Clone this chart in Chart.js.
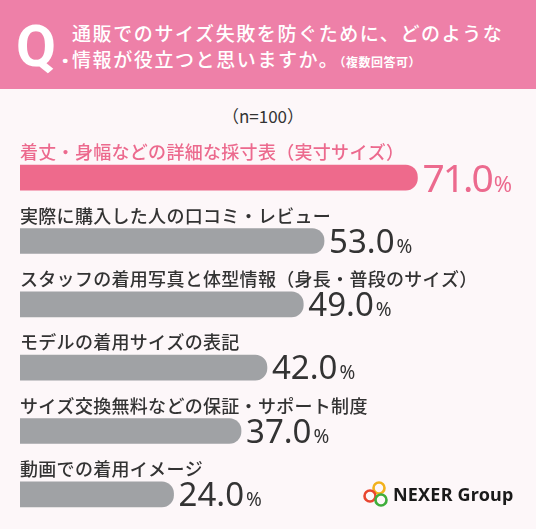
<!DOCTYPE html>
<html>
<head>
<meta charset="utf-8">
<script src="https://cdn.jsdelivr.net/npm/chart.js@4"></script>
<style>
  html, body { margin: 0; padding: 0; }
  body { width: 536px; height: 529px; background: #fdf7f9; position: relative; overflow: hidden;
         font-family: "Noto Sans CJK JP", "Noto Sans", sans-serif; }
  #head { position: absolute; left: 0; top: 0; width: 536px; height: 89px; background: #ee80a8; color: #fff; }
  #q { position: absolute; left: 16px; top: 11px; font: 700 58px Roboto, sans-serif; line-height: 70px; }
  #qdot { position: absolute; left: 61px; top: 38px; font: 700 30px Roboto, sans-serif; line-height: 30px; }
  .tl { position: absolute; left: 72px; font-size: 19px; font-weight: 500; letter-spacing: 1.6px; line-height: 24px; white-space: nowrap; }
  .tl small { font-size: 12px; font-weight: 700; letter-spacing: 0.5px; }
  #n { position: absolute; left: 0; width: 526px; top: 105px; text-align: center; font-size: 17px; color: #333; line-height: 22px; }
  #logo { position: absolute; left: 360px; top: 480px; width: 170px; height: 30px; }
  #logo span { position: absolute; left: 33px; top: 2px; font: 700 18px "Noto Sans", sans-serif; color: #1a1a1a; letter-spacing: 0.2px; }
  canvas { position: absolute; left: 0; top: 0; }
</style>
</head>
<body>
<div id="head">
  <div id="q">Q</div>
  <div id="qdot">.</div>
  <div class="tl" style="top:21px">通販でのサイズ失敗を防ぐために、どのような</div>
  <div class="tl" style="top:47px">情報が役立つと思いますか。<small>（複数回答可）</small></div>
</div>
<div id="n">（n=100）</div>
<div style="position:absolute;left:0;top:0;width:536px;height:529px"><canvas id="c"></canvas></div>
<div id="logo">
  <svg width="34" height="30" viewBox="0 0 34 30">
    <circle cx="19" cy="8" r="5.5" fill="none" stroke="#f2b21c" stroke-width="2.6"/>
    <circle cx="10" cy="16" r="5.5" fill="none" stroke="#e8452f" stroke-width="2.6"/>
    <circle cx="21" cy="20" r="5.5" fill="none" stroke="#3fae3b" stroke-width="2.6"/>
  </svg>
  <span>NEXER Group</span>
</div>
<script>
const categories = [
  '着丈・身幅などの詳細な採寸表（実寸サイズ）',
  '実際に購入した人の口コミ・レビュー',
  'スタッフの着用写真と体型情報（身長・普段のサイズ）',
  'モデルの着用サイズの表記',
  'サイズ交換無料などの保証・サポート制度',
  '動画での着用イメージ'
];
const percents = [71.0, 53.0, 49.0, 42.0, 37.0, 24.0];

const PINK = '#ee6a8c';
const GRAY = '#a0a2a5';
const barColors = percents.map((v, i) => i === 0 ? PINK : GRAY);
const textColors = percents.map((v, i) => i === 0 ? '#ec6a8e' : '#333333');

// labels above each bar and the value at its end (top one is bigger)
const barLabels = {
  id: 'barLabels',
  afterDatasetsDraw(chart) {
    const ctx = chart.ctx;
    const meta = chart.getDatasetMeta(0);
    meta.data.forEach(function (bar, i) {
      const top = bar.y - bar.height / 2;
      const bottom = bar.y + bar.height / 2;
      const big = i === 0;
      ctx.save();
      ctx.textAlign = 'left';
      ctx.textBaseline = 'alphabetic';
      ctx.fillStyle = textColors[i];
      ctx.font = '500 18px "Noto Sans CJK JP"';
      ctx.letterSpacing = '0.3px';
      ctx.fillText(categories[i], chart.chartArea.left, top - 6);

      ctx.letterSpacing = big ? '-2px' : '0px';
      ctx.font = (big ? '400 39px' : '400 33px') + ' "Noto Sans", sans-serif';
      const num = percents[i].toFixed(1);
      const x0 = bar.x + 5;
      const y0 = big ? bottom + 2 : bottom - 1;
      ctx.fillText(num, x0, y0);
      const w = ctx.measureText(num).width;
      ctx.letterSpacing = '0px';
      ctx.font = (big ? '400 22px' : '400 19px') + ' "Noto Sans", sans-serif';
      ctx.fillText('%', x0 + w + 2, y0);
      ctx.restore();
    });
  }
};

new Chart(document.getElementById('c'), {
  type: 'bar',
  data: {
    labels: categories,
    datasets: [{
      data: percents,
      base: -5.6,
      backgroundColor: barColors,
      borderWidth: 0,
      borderRadius: 12,
      borderSkipped: 'start',
      barThickness: 25
    }]
  },
  options: {
    indexAxis: 'y',
    responsive: true,
    maintainAspectRatio: false,
    animation: false,
    layout: { padding: { left: 20, right: 20, top: 146, bottom: 3 } },
    scales: {
      x: { min: -5.6, max: 90, display: false },
      y: { display: false }
    },
    plugins: {
      legend: { display: false },
      tooltip: { enabled: false }
    }
  },
  plugins: [barLabels]
});
</script>
</body>
</html>
